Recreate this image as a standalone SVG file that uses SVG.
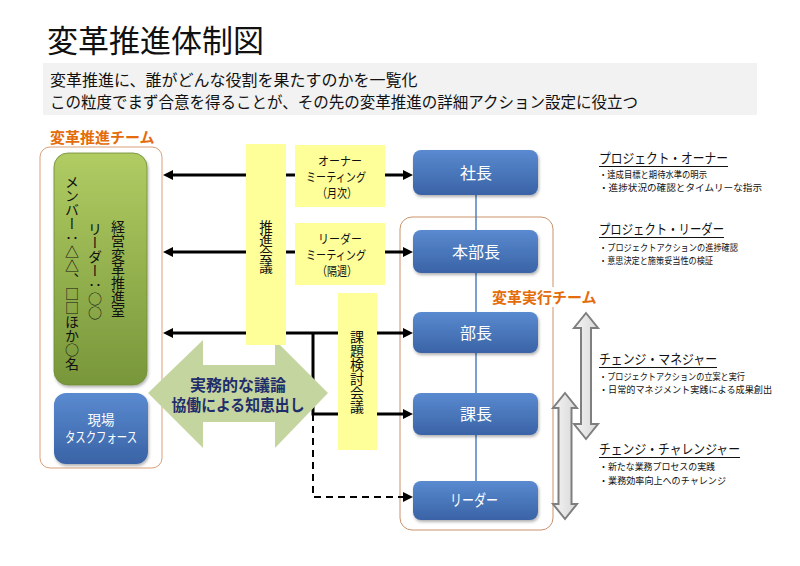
<svg xmlns="http://www.w3.org/2000/svg" width="800" height="566" viewBox="0 0 800 566">
<style>
text{font-family:"Noto Sans CJK JP","Noto Sans",sans-serif;fill:#111}
.ttl{font-size:31px}
.sub{font-size:16px}
.team{font-size:15px;font-weight:700;fill:#e46c0a}
.yb{fill:#ffff99}
.yt{font-size:12.5px;text-anchor:middle}
.vt{writing-mode:vertical-rl;font-size:14px}
.bn{fill:url(#gBlue)}
.bt{font-size:16px;fill:#fff;text-anchor:middle}
.hd{font-size:13.5px}
.bl{font-size:9.5px}
.ul{stroke:#111;stroke-width:1.2}
.conn{stroke:#000;stroke-width:3;fill:none}
.dash{stroke:#000;stroke-width:2;fill:none;stroke-dasharray:7 5}
.gar{fill:url(#gGray);stroke:#7f7f7f;stroke-width:2}
.at{font-size:16px;font-weight:700;fill:#1f2d6b;text-anchor:middle}
</style>
<defs>
<linearGradient id="gBlue" x1="0" y1="0" x2="0" y2="1"><stop offset="0" stop-color="#5a8ad0"/><stop offset="1" stop-color="#3a63a6"/></linearGradient>
<linearGradient id="gGreen" x1="0" y1="0" x2="0" y2="1"><stop offset="0" stop-color="#b0cc63"/><stop offset="1" stop-color="#78973a"/></linearGradient>
<linearGradient id="gGray" x1="0" y1="0" x2="1" y2="0"><stop offset="0" stop-color="#f4f4f4"/><stop offset="1" stop-color="#d8d8d8"/></linearGradient>
<filter id="sh" x="-10%" y="-10%" width="130%" height="140%"><feDropShadow dx="1" dy="2" stdDeviation="1.5" flood-color="#000" flood-opacity="0.3"/></filter>
<marker id="ah" viewBox="0 0 10 10" refX="2" refY="5" markerWidth="10" markerHeight="10" markerUnits="userSpaceOnUse" orient="auto-start-reverse"><path d="M0,0 L10,5 L0,10 z" fill="#000"/></marker>
</defs>
<rect width="800" height="566" fill="#fff"/>
<text class="ttl" x="47" y="52">変革推進体制図</text>
<rect x="43" y="63" width="714" height="52" fill="#f2f2f2"/>
<text class="sub" x="50" y="86">変革推進に、誰がどんな役割を果たすのかを一覧化</text>
<text class="sub" x="50" y="108" textLength="588" lengthAdjust="spacingAndGlyphs">この粒度でまず合意を得ることが、その先の変革推進の詳細アクション設定に役立つ</text>

<g id="team-left">
<rect x="40" y="147" width="122" height="321" rx="10" fill="#fff" stroke="#d9a07a" stroke-width="1"/>
<text class="team" x="50" y="143">変革推進チーム</text>
</g>
<g id="team-right">
<rect x="400" y="217" width="153" height="313" rx="12" fill="#fff" stroke="#c9926a" stroke-width="1"/>
<rect x="490" y="287" width="110" height="20" fill="#fff"/>
<text class="team" x="492" y="303">変革実行チーム</text>
</g>

<g id="connectors">
<line class="conn" x1="171" y1="175" x2="405" y2="175" marker-start="url(#ah)" marker-end="url(#ah)"/>
<line class="conn" x1="171" y1="252" x2="405" y2="252" marker-start="url(#ah)" marker-end="url(#ah)"/>
<line class="conn" x1="171" y1="333" x2="405" y2="333" marker-start="url(#ah)" marker-end="url(#ah)"/>
<polyline class="conn" points="313,333 313,414 405,414" marker-end="url(#ah)"/>
<polyline class="dash" points="313,414 313,497 405,497" marker-end="url(#ah)"/>
<line x1="476" y1="195" x2="476" y2="481" stroke="#4f81bd" stroke-width="1.5"/>
</g>

<g id="management">
<rect x="54" y="153" width="93" height="232" rx="14" fill="url(#gGreen)" stroke="#6f8a35" stroke-width="0.8" filter="url(#sh)"/>
<text class="vt" x="118" y="220">経営変革推進室</text>
<text class="vt" x="95" y="222">リーダー：○○</text>
<text class="vt" x="72" y="175">メンバー：△△、□□ほか○名</text>
</g>
<g id="taskforce">
<rect x="54" y="393" width="94" height="71" rx="12" class="bn" filter="url(#sh)"/>
<text x="101" y="425" font-size="13.5" text-anchor="middle" style="fill:#fff">現場</text>
<text x="101" y="442" font-size="13.5" text-anchor="middle" style="fill:#fff" textLength="72" lengthAdjust="spacingAndGlyphs">タスクフォース</text>
</g>
<g id="collab-arrow">
<polygon points="148,393 203,340 203,365 275,365 275,340 328,393 275,448 275,422 203,422 203,448" fill="#c5d5a0"/>
<text class="at" x="238" y="391">実務的な議論</text>
<text class="at" x="238" y="411" textLength="133" lengthAdjust="spacingAndGlyphs">協働による知恵出し</text>
</g>

<g id="suishin-kaigi">
<rect class="yb" x="246" y="144" width="40" height="201"/>
<text class="vt" x="266" y="220" style="font-size:13.5px">推進会議</text>
</g>
<g id="owner-meeting">
<rect class="yb" x="295" y="145" width="90" height="62"/>
<text class="yt" x="340" y="166" textLength="44" lengthAdjust="spacingAndGlyphs">オーナー</text>
<text class="yt" x="336" y="182" textLength="60" lengthAdjust="spacingAndGlyphs">ミーティング</text>
<text class="yt" x="337" y="198" textLength="40" lengthAdjust="spacingAndGlyphs">（月次）</text>
</g>
<g id="leader-meeting">
<rect class="yb" x="295" y="223" width="90" height="62"/>
<text class="yt" x="340" y="244" textLength="44" lengthAdjust="spacingAndGlyphs">リーダー</text>
<text class="yt" x="336" y="260" textLength="60" lengthAdjust="spacingAndGlyphs">ミーティング</text>
<text class="yt" x="337" y="276" textLength="40" lengthAdjust="spacingAndGlyphs">（隔週）</text>
</g>
<g id="kadai-kaigi">
<rect class="yb" x="338" y="293" width="39" height="157"/>
<text class="vt" x="357" y="330">課題検討会議</text>
</g>

<g id="shacho"><rect class="bn" x="413" y="150" width="125" height="45" rx="8" filter="url(#sh)"/><text class="bt" x="476" y="179">社長</text></g>
<g id="honbucho"><rect class="bn" x="413" y="230" width="125" height="43" rx="8" filter="url(#sh)"/><text class="bt" x="476" y="258">本部長</text></g>
<g id="bucho"><rect class="bn" x="413" y="312" width="125" height="41" rx="8" filter="url(#sh)"/><text class="bt" x="476" y="339">部長</text></g>
<g id="kacho"><rect class="bn" x="413" y="393" width="125" height="42" rx="8" filter="url(#sh)"/><text class="bt" x="476" y="420">課長</text></g>
<g id="leader"><rect class="bn" x="413" y="481" width="125" height="39" rx="8" filter="url(#sh)"/><text class="bt" x="474" y="506" textLength="48" lengthAdjust="spacingAndGlyphs">リーダー</text></g>

<g id="range-arrows">
<polygon class="gar" points="586,313 598,328 591,328 591,424 598,424 586,439 574,424 581,424 581,328 574,328"/>
<polygon class="gar" points="565,393 577,408 571.5,408 571.5,504 577,504 565,519 553,504 558.5,504 558.5,408 553,408"/>
</g>

<g id="role-owner">
<text class="hd" x="599" y="163" textLength="129" lengthAdjust="spacingAndGlyphs">プロジェクト・オーナー</text>
<line class="ul" x1="599" y1="166.5" x2="728" y2="166.5"/>
<text class="bl" x="599" y="178" textLength="108" lengthAdjust="spacingAndGlyphs">・達成目標と期待水準の明示</text>
<text class="bl" x="599" y="191" textLength="163" lengthAdjust="spacingAndGlyphs">・進捗状況の確認とタイムリーな指示</text>
</g>
<g id="role-leader">
<text class="hd" x="599" y="234" textLength="125" lengthAdjust="spacingAndGlyphs">プロジェクト・リーダー</text>
<line class="ul" x1="599" y1="237.5" x2="724" y2="237.5"/>
<text class="bl" x="599" y="251" textLength="139" lengthAdjust="spacingAndGlyphs">・プロジェクトアクションの進捗確認</text>
<text class="bl" x="599" y="264" textLength="114" lengthAdjust="spacingAndGlyphs">・意思決定と施策妥当性の検証</text>
</g>
<g id="role-manager">
<text class="hd" x="599" y="364" textLength="118" lengthAdjust="spacingAndGlyphs">チェンジ・マネジャー</text>
<line class="ul" x1="599" y1="367.5" x2="717" y2="367.5"/>
<text class="bl" x="599" y="380" textLength="146" lengthAdjust="spacingAndGlyphs">・プロジェクトアクションの立案と実行</text>
<text class="bl" x="599" y="393" textLength="173" lengthAdjust="spacingAndGlyphs">・日常的マネジメント実践による成果創出</text>
</g>
<g id="role-challenger">
<text class="hd" x="599" y="454" textLength="141" lengthAdjust="spacingAndGlyphs">チェンジ・チャレンジャー</text>
<line class="ul" x1="599" y1="457.5" x2="740" y2="457.5"/>
<text class="bl" x="599" y="470" textLength="116" lengthAdjust="spacingAndGlyphs">・新たな業務プロセスの実践</text>
<text class="bl" x="599" y="484" textLength="127" lengthAdjust="spacingAndGlyphs">・業務効率向上へのチャレンジ</text>
</g>
</svg>
